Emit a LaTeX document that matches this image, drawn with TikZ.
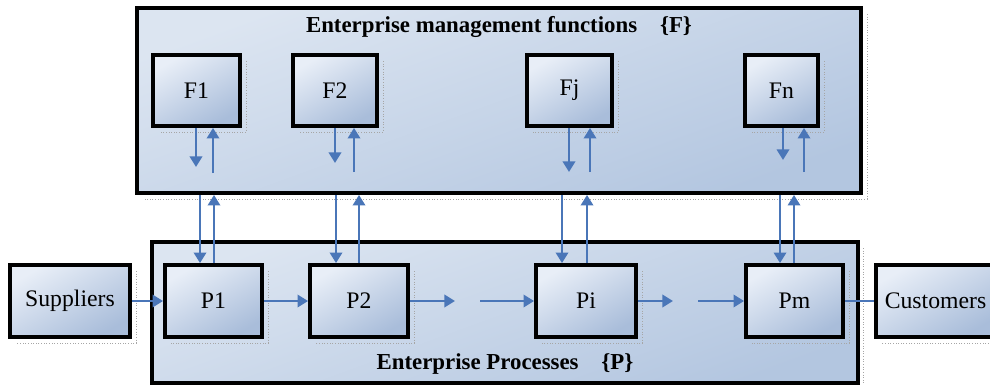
\documentclass[tikz,border=0pt]{standalone}
\usepackage{fontspec}
\setmainfont{Liberation Serif}
\usetikzlibrary{arrows.meta}
\definecolor{flowblue}{HTML}{4A76B8}
\definecolor{boxlight}{HTML}{E8EEF7}
\definecolor{boxdark}{HTML}{A9BDDA}
\definecolor{panellight}{HTML}{DCE5F1}
\definecolor{paneldark}{HTML}{B3C6E0}
\tikzset{
  wh/.style 2 args={minimum width=#1*0.02cm, minimum height=#2*0.02cm},
  unit/.style={draw=black, line width=2.2pt, inner sep=0pt,
    shading=axis, top color=boxlight, bottom color=boxdark, shading angle=30,
    font=\fontsize{13.5}{15}\selectfont},
  panel/.style={draw=black, line width=2.2pt, inner sep=0pt,
    shading=axis, top color=panellight, bottom color=paneldark, shading angle=20},
  shade line/.style={draw=gray!70, densely dotted, line width=0.5pt},
  arr/.style={draw=flowblue, line width=1.4pt, -{Triangle[width=7pt,length=6pt]}},
  link/.style={draw=flowblue, line width=1.4pt},
  title/.style={font=\fontsize{13}{15}\selectfont\bfseries}
}
\begin{document}
\begin{tikzpicture}[x=0.02cm, y=-0.02cm]
\useasboundingbox (0,0) rectangle (990,385);

% dotted drop outlines behind the panels
\draw[shade line] (867,14) -- (867,199) -- (143,199);
\draw[shade line] (863,248) -- (863,390);

% panels
\node[panel, wh={724}{185}] (Fbox) at (499,100.5) {};
\node[panel, wh={706}{141}] (Pbox) at (505,312.5) {};
\node[title] (Ftitle) at (499,27) {Enterprise management functions\quad \{F\}};
\node[title] (Ptitle) at (505,364) {Enterprise Processes\quad \{P\}};

% dotted drop outlines behind the units
\foreach \cx/\cy/\w/\h in {196.5/90.5/87/71, 335/90.5/84/71, 569.5/90.5/85/71, 781.5/90.5/73/71,
  70/301/120/72, 213.5/301/97/72, 359/301/98/72, 586/301/100/72, 794.5/301/97/72, 935.5/301/119/72}
  \draw[shade line] (\cx+\w/2+6,\cy-\h/2+6) -- (\cx+\w/2+6,\cy+\h/2+6) -- (\cx-\w/2+6,\cy+\h/2+6);

% function units
\node[unit, wh={87}{71}] (F1) at (196.5,90.5) {F1};
\node[unit, wh={84}{71}] (F2) at (335,90.5) {F2};
\node[unit, wh={85}{71}] (Fj) at (569.5,90.5) {Fj};
\node[unit, wh={73}{71}] (Fn) at (781.5,90.5) {Fn};

% process units
\node[unit, wh={120}{72}] (Sup) at (70,301) {Suppliers};
\node[unit, wh={97}{72}] (P1) at (213.5,301) {P1};
\node[unit, wh={98}{72}] (P2) at (359,301) {P2};
\node[unit, wh={100}{72}] (Pi) at (586,301) {Pi};
\node[unit, wh={97}{72}] (Pm) at (794.5,301) {Pm};
\node[unit, wh={119}{72}] (Cus) at (935.5,301) {Customers};

% arrows inside the functions panel
\coordinate (f1d) at (196,167);  \coordinate (f1u) at (213,173);
\coordinate (f2d) at (335,163);  \coordinate (f2u) at (354,172);
\coordinate (fjd) at (569,172);  \coordinate (fju) at (590,172);
\coordinate (fnd) at (783,160);  \coordinate (fnu) at (804,172);
\draw[arr] (F1.south -| f1d) -- (f1d);
\draw[arr] (f1u) -- (F1.south -| f1u);
\draw[arr] (F2.south -| f2d) -- (f2d);
\draw[arr] (f2u) -- (F2.south -| f2u);
\draw[arr] (Fj.south -| fjd) -- (fjd);
\draw[arr] (fju) -- (Fj.south -| fju);
\draw[arr] (Fn.south -| fnd) -- (fnd);
\draw[arr] (fnu) -- (Fn.south -| fnu);

% arrows between the panels
\coordinate (p1d) at (200,0);  \coordinate (p1u) at (214,0);
\coordinate (p2d) at (336,0);  \coordinate (p2u) at (359,0);
\coordinate (pid) at (562,0);  \coordinate (piu) at (587,0);
\coordinate (pmd) at (780,0);  \coordinate (pmu) at (794,0);
\draw[arr] (Fbox.south -| p1d) -- (P1.north -| p1d);
\draw[arr] (P1.north -| p1u) -- (Fbox.south -| p1u);
\draw[arr] (Fbox.south -| p2d) -- (P2.north -| p2d);
\draw[arr] (P2.north -| p2u) -- (Fbox.south -| p2u);
\draw[arr] (Fbox.south -| pid) -- (Pi.north -| pid);
\draw[arr] (Pi.north -| piu) -- (Fbox.south -| piu);
\draw[arr] (Fbox.south -| pmd) -- (Pm.north -| pmd);
\draw[arr] (Pm.north -| pmu) -- (Fbox.south -| pmu);

% process flow
\coordinate (g1) at (455,301); \coordinate (g2) at (480,301);
\coordinate (g3) at (673,301); \coordinate (g4) at (698,301);
\draw[arr] (Sup) -- (P1);
\draw[arr] (P1) -- (P2);
\draw[arr] (P2.east) -- (g1);
\draw[arr] (g2) -- (Pi.west);
\draw[arr] (Pi.east) -- (g3);
\draw[arr] (g4) -- (Pm.west);
\draw[link] (Pm) -- (Cus);
\end{tikzpicture}
\end{document}
